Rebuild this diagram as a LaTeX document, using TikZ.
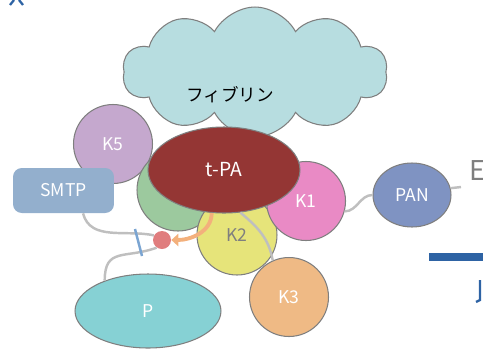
\documentclass[tikz,border=0pt]{standalone}
\usepackage{fontspec}
\newfontfamily\jpfont{Noto Sans CJK JP}
\usetikzlibrary{arrows.meta,shapes.geometric,shapes.symbols,calc}

\definecolor{edgegray}{HTML}{7F7F7F}
\definecolor{chaingray}{HTML}{BFBFBF}
\definecolor{fibcol}{HTML}{B7DDE0}
\definecolor{kfivecol}{HTML}{C5A8CE}
\definecolor{smtpcol}{HTML}{93AFCD}
\definecolor{greencol}{HTML}{9CC99E}
\definecolor{tpacol}{HTML}{943634}
\definecolor{ktwocol}{HTML}{E6E47A}
\definecolor{konecol}{HTML}{E98AC5}
\definecolor{kthreecol}{HTML}{EFBA85}
\definecolor{pancol}{HTML}{7F93C2}
\definecolor{pcol}{HTML}{86D1D4}
\definecolor{dotcol}{HTML}{E07D7E}
\definecolor{arrcol}{HTML}{F3B07C}
\definecolor{tickcol}{HTML}{7BA5D2}
\definecolor{barcol}{HTML}{2E63A4}

\begin{document}
\begin{tikzpicture}[x=0.02cm, y=-0.02cm,
  blob/.style={draw=edgegray, line width=0.6pt, circle, inner sep=0pt,
               minimum size=1.58cm, text=white, font=\jpfont\fontsize{10}{12}\selectfont},
  oval/.style={blob, ellipse},
  chain/.style={draw=chaingray, line width=1.4pt},
  lnk/.style={-{Triangle[length=4pt,width=7pt]}, draw=arrcol, line width=2.2pt},
]
\useasboundingbox (0,0) rectangle (483,349);

\node[draw=edgegray, line width=0.6pt, fill=fibcol, cloud, cloud puffs=10,
      cloud puff arc=125, aspect=2, inner sep=0pt,
      minimum width=5.3cm, minimum height=2.6cm] (fib) at (255,72) {};
\node[font=\jpfont\fontsize{10}{12}\selectfont] (fibtxt) at (230,95) {フィブリン};

\node[blob, fill=kfivecol] (k5) at (113,144) {K5};
\node[draw=none, fill=smtpcol, rounded corners=5pt, minimum width=2.02cm,
      minimum height=0.9cm, text=white, font=\jpfont\fontsize{10}{12}\selectfont] (smtp) at (63.5,190.5) {SMTP};
\node[blob, fill=greencol, minimum size=1.64cm] (green) at (178,190) {};
\node[blob, fill=ktwocol, minimum size=1.6cm, text=edgegray] (k2) at (237,235) {K2};
\node[blob, fill=konecol] (k1) at (306,201) {K1};
\node[oval, fill=pancol, minimum width=1.56cm, minimum height=1.28cm] (pan) at (412,195) {PAN};
\node[oval, fill=pcol, minimum width=2.92cm, minimum height=1.48cm] (p) at (148,311) {P};
\node[circle, fill=dotcol, inner sep=0pt, minimum size=0.36cm] (dot) at (162,240) {};

% linkers
\draw[chain] ([xshift=0.39cm]smtp.south) to[out=-75, in=168] (dot.150);
\draw[chain] (dot.235) to[out=200, in=90, looseness=1.4] (p.145);
\draw[chain] (k1.-15) to[out=0, in=180] (pan.west);
\coordinate (eend) at (461,187);
\draw[chain] (pan.10) -- (eend);
\draw[tickcol, line width=1.4pt] (135,229) -- (142,256);

\node[oval, fill=tpacol, minimum width=3.04cm, minimum height=1.72cm,
      font=\jpfont\fontsize{11}{13}\selectfont] (tpa) at (224,170) {t-PA};
\node[blob, fill=kthreecol] (k3) at (289,297) {K3};
\draw[chain] (tpa.-69) to[out=-40, in=100] (k3.114);
\draw[lnk] (tpa.-106) to[out=-90, in=0] (dot.east);

% cut-off parts at the edges
\node[anchor=base west, inner sep=0pt, text=edgegray, font=\jpfont\fontsize{15.5}{18}\selectfont] (e) at (469,180) {E};
\fill[barcol] (429,253) rectangle (483,261);
\draw[barcol, line width=1.3pt] (10,5) -- (14,0) (19,0) -- (23,5);
\draw[barcol, line width=1.3pt] (480,280) -- (480,300) -- (476,302);
\end{tikzpicture}
\end{document}
